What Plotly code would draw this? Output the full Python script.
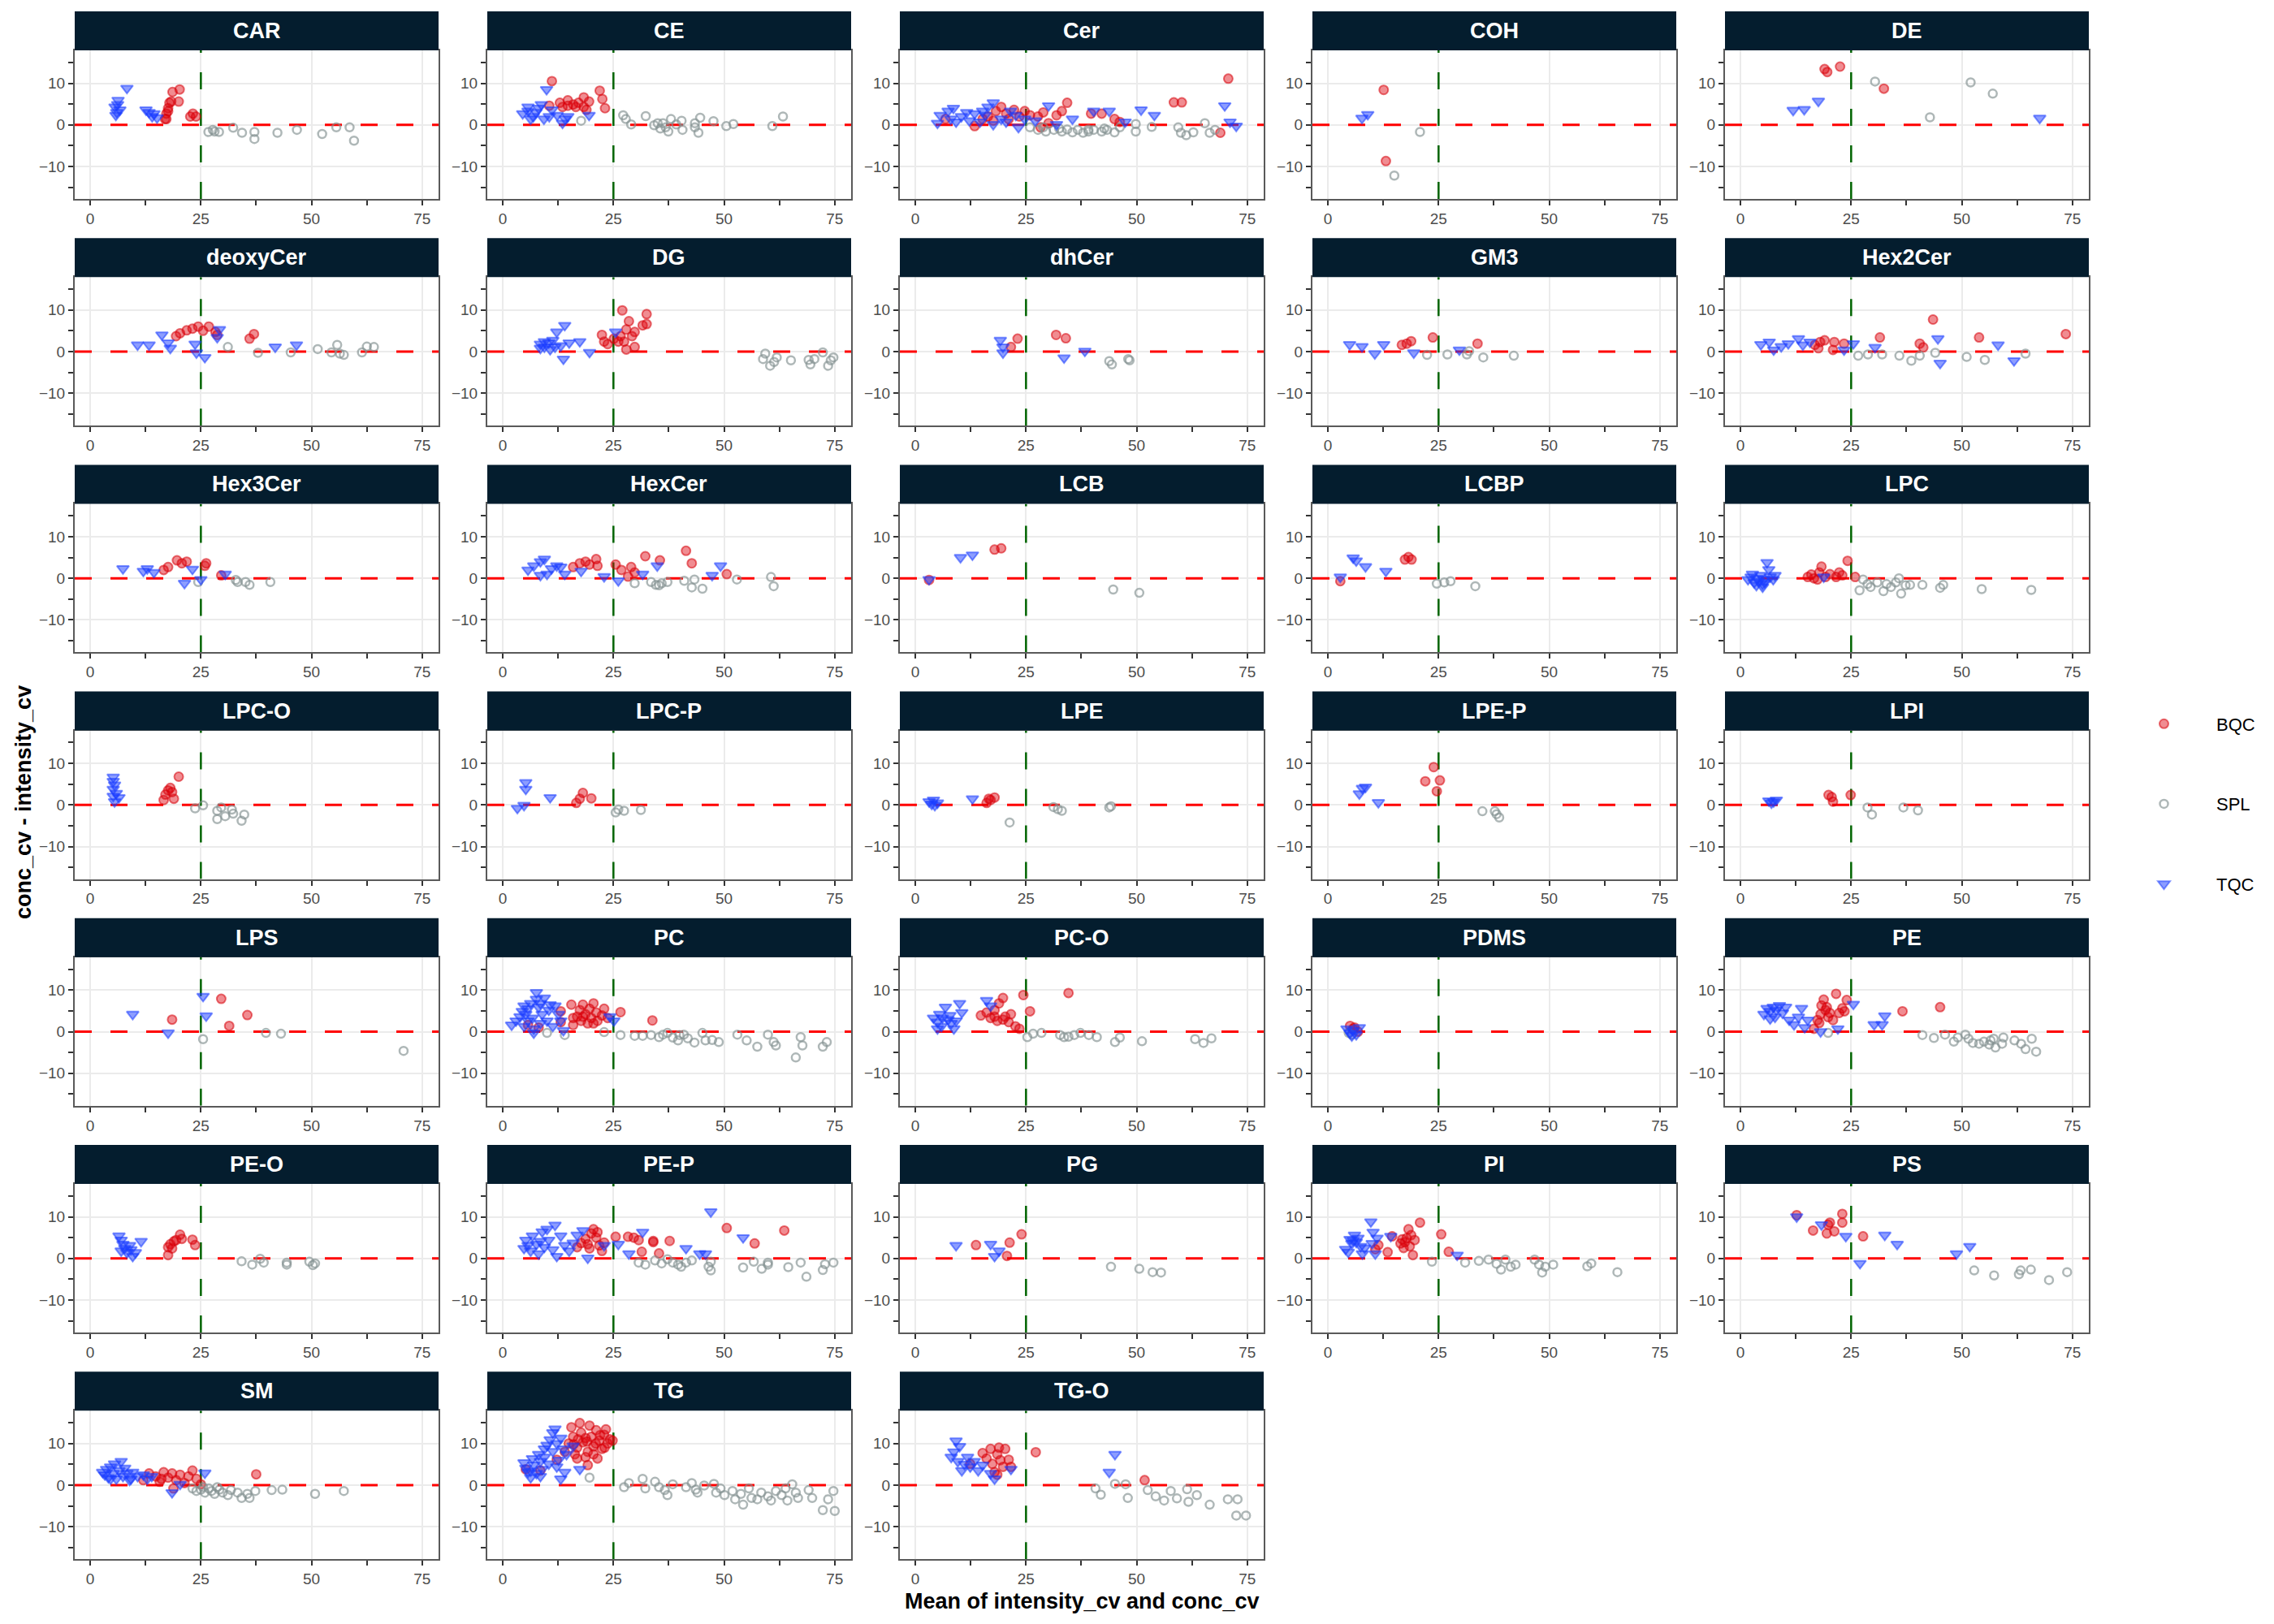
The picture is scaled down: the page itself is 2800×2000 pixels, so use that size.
import plotly.graph_objects as go

# lipid classes, one panel each (facet order)
CLASSES = ["CAR", "CE", "Cer", "COH", "DE",
           "deoxyCer", "DG", "dhCer", "GM3", "Hex2Cer",
           "Hex3Cer", "HexCer", "LCB", "LCBP", "LPC",
           "LPC-O", "LPC-P", "LPE", "LPE-P", "LPI",
           "LPS", "PC", "PC-O", "PDMS", "PE",
           "PE-O", "PE-P", "PG", "PI", "PS",
           "SM", "TG", "TG-O"]

# x = mean of intensity_cv and conc_cv, y = conc_cv - intensity_cv
car_bqc_x = [16.9, 17.2, 17.6, 17.9, 18.3, 18.6, 20.2, 20.0, 17.6, 22.6, 23.2, 23.9, 17.2]
car_bqc_y = [1.4, 2.7, 4.0, 5.3, 5.6, 7.9, 8.5, 5.6, 3.3, 2.0, 2.7, 2.0, 1.4]
car_spl_x = [26.7, 27.7, 29.1, 32.3, 34.3, 37.1, 37.1, 42.3, 46.7, 52.4, 55.6, 58.6, 59.6, 28.1]
car_spl_y = [-1.7, -1.2, -1.7, -0.7, -1.9, -1.7, -3.4, -1.9, -1.2, -2.2, -0.6, -0.6, -3.8, -1.6]
car_tqc_x = [5.6, 5.8, 6.0, 6.2, 6.3, 6.7, 8.3, 12.6, 13.3, 14.0, 14.4, 15.1]
car_tqc_y = [4.3, 2.3, 3.0, 4.9, 5.9, 3.6, 8.8, 3.6, 3.0, 2.0, 2.7, 1.7]

ce_bqc_x = [11.1, 10.5, 12.9, 14.7, 15.9, 17.1, 18.3, 19.5, 16.5, 18.3, 21.9, 22.5, 23.1, 13.5, 18.9, 14.7]
ce_bqc_y = [10.5, 4.6, 5.3, 5.9, 4.9, 5.3, 6.6, 5.6, 4.3, 4.3, 8.2, 6.2, 4.0, 4.3, 3.6, 4.6]
ce_spl_x = [17.7, 27.2, 27.8, 29.0, 32.3, 34.2, 35.6, 36.2, 36.8, 38.0, 37.4, 40.4, 40.6, 43.4, 44.2, 44.6,
            47.6, 50.5, 52.1, 60.9, 63.3, 35.0, 39.2, 43.4]
ce_spl_y = [1.0, 2.3, 1.4, 0.1, 2.1, -0.1, -0.9, 0.4, -0.6, 1.4, -1.6, 1.0, -1.2, 0.4, -1.9, 1.7,
            0.9, -0.3, 0.2, -0.3, 2.0, 0.4, 0.1, -0.6]
ce_tqc_x = [4.5, 5.7, 6.9, 8.1, 8.7, 9.9, 9.3, 6.3, 7.5, 11.1, 12.3, 13.5, 14.1, 14.7, 19.5, 5.7, 10.5]
ce_tqc_y = [2.7, 3.3, 2.0, 4.0, 4.9, 8.5, 1.4, 1.4, 3.0, 3.6, 2.3, 0.4, 1.4, 2.0, 2.3, 4.3, 2.0]

cer_bqc_x = [6.8, 13.4, 16.4, 18.2, 19.4, 20.5, 22.3, 23.5, 24.7, 25.9, 27.7, 28.3, 28.9, 30.1, 31.9, 33.1,
             34.3, 39.7, 42.1, 45.0, 46.2, 58.4, 60.2, 68.9, 70.7, 15.2, 21.1, 17.6]
cer_bqc_y = [1.4, -0.3, 2.0, 3.3, 4.3, 2.7, 3.6, 2.0, 3.3, 2.3, 2.0, -0.6, 3.0, 0.4, 2.3, 3.3,
             5.3, 2.7, 2.7, 1.4, 0.7, 5.4, 5.4, -1.9, 11.1, 1.4, 1.4, 1.0]
cer_spl_x = [25.9, 27.7, 29.5, 31.3, 33.1, 34.3, 35.5, 36.7, 37.9, 39.1, 40.3, 42.1, 43.3, 45.0, 46.2,
             49.8, 49.8, 53.4, 59.4, 60.0, 61.2, 62.8, 65.4, 66.5, 67.7, 28.9, 32.5, 39.1, 42.7]
cer_spl_y = [-0.6, -1.2, -1.6, -1.2, -1.6, -1.1, -1.8, -1.2, -1.9, -1.6, -1.2, -1.6, -1.2, -1.8, -0.6,
             -1.6, 0.2, -0.5, -0.6, -1.9, -2.5, -1.8, 0.4, -1.9, -1.2, -0.6, -0.9, -1.1, -0.9]
cer_tqc_x = [5.0, 5.6, 7.4, 8.6, 9.2, 10.4, 11.6, 13.4, 14.6, 15.2, 16.4, 17.6, 17.6, 19.4, 21.5, 22.7,
             23.3, 24.7, 27.1, 30.1, 31.9, 35.5, 40.3, 43.8, 47.4, 51.0, 54.0, 69.9, 71.1, 72.5,
             8.0, 12.2, 15.8, 20.5]
cer_tqc_y = [0.4, 2.3, 3.3, 4.0, 0.7, 2.0, 3.0, 2.7, 0.7, 3.3, 4.3, 5.3, 0.1, 1.4, 3.3, 2.3,
             -0.6, 1.4, 1.0, 4.6, 0.1, 1.4, 3.3, 3.3, 0.7, 3.6, 2.3, 4.6, 0.7, -0.3,
             1.4, 1.0, 2.3, 0.7]

coh_bqc_x = [12.6, 13.1]
coh_bqc_y = [8.4, -8.7]
coh_spl_x = [15.0, 20.8]
coh_spl_y = [-12.2, -1.7]
coh_tqc_x = [7.7, 9.0]
coh_tqc_y = [1.6, 2.5]

de_bqc_x = [19.0, 19.6, 22.5, 32.4]
de_bqc_y = [13.4, 12.7, 14.0, 8.7]
de_spl_x = [30.4, 42.8, 52.0, 57.0]
de_spl_y = [10.4, 1.8, 10.2, 7.5]
de_tqc_x = [11.9, 14.4, 17.6, 67.6]
de_tqc_y = [3.5, 3.7, 5.7, 1.6]

deoxycer_bqc_x = [19.4, 20.3, 21.8, 23.1, 24.4, 25.5, 26.8, 28.3, 28.7, 36.0, 37.0]
deoxycer_bqc_y = [3.7, 4.4, 5.1, 5.5, 6.0, 5.0, 6.0, 4.7, 4.0, 3.1, 4.2]
deoxycer_spl_x = [31.1, 37.9, 45.3, 51.4, 54.5, 55.8, 56.4, 57.3, 61.4, 62.5, 64.1]
deoxycer_spl_y = [1.1, -0.3, -0.2, 0.6, -0.2, 1.6, -0.5, -0.8, -0.2, 1.2, 1.1]
deoxycer_tqc_x = [10.7, 13.3, 16.2, 17.6, 18.1, 23.7, 24.0, 25.9, 29.2, 28.7, 41.8, 46.6]
deoxycer_tqc_y = [1.6, 1.6, 4.0, 2.1, 0.8, 1.8, -0.3, -1.4, 5.3, 3.4, 1.1, 1.6]

dg_bqc_x = [22.4, 22.9, 23.7, 25.1, 26.1, 26.6, 27.0, 27.4, 27.9, 28.5, 29.2, 29.8, 29.8, 31.6, 32.5, 32.5, 27.9]
dg_bqc_y = [4.0, 2.4, 1.8, 3.1, 2.4, 3.7, 9.9, 2.4, 0.5, 7.3, 3.7, 1.1, 4.7, 6.3, 9.0, 6.6, 5.3]
dg_spl_x = [59.3, 58.8, 60.4, 61.3, 61.9, 65.1, 69.1, 69.5, 70.4, 72.3, 73.5, 74.7, 74.1]
dg_spl_y = [-0.5, -1.8, -3.4, -2.5, -1.4, -2.1, -2.0, -3.1, -1.8, -0.2, -3.4, -1.4, -2.1]
dg_tqc_x = [8.5, 9.4, 10.4, 10.7, 11.3, 11.8, 12.2, 13.1, 13.7, 14.0, 15.0, 17.4, 19.6, 25.5, 9.4, 8.5]
dg_tqc_y = [1.8, 1.1, 2.1, 0.5, 2.7, 1.1, 4.7, 1.4, -1.8, 6.3, 2.1, 2.4, -0.2, 4.7, 2.4, 0.8]

dhcer_bqc_x = [21.6, 23.1, 31.8, 34.0]
dhcer_bqc_y = [1.1, 3.1, 4.0, 3.2]
dhcer_spl_x = [43.8, 44.4, 48.1, 48.4]
dhcer_spl_y = [-2.3, -3.1, -1.8, -2.1]
dhcer_tqc_x = [19.2, 19.8, 19.8, 33.6, 38.3]
dhcer_tqc_y = [2.7, 1.1, -0.3, -1.5, 0.1]

gm3_bqc_x = [16.7, 17.8, 18.8, 23.7, 33.8]
gm3_bqc_y = [1.6, 1.9, 2.5, 3.4, 1.9]
gm3_spl_x = [22.4, 27.0, 31.4, 31.9, 35.1, 42.0]
gm3_spl_y = [-0.8, -0.7, -0.7, 0.1, -1.4, -1.0]
gm3_tqc_x = [4.9, 7.7, 10.6, 12.6, 19.4, 29.7]
gm3_tqc_y = [1.7, 1.2, -0.5, 1.7, -0.3, 0.4]

hex2cer_bqc_x = [16.8, 18.0, 19.0, 17.6, 21.2, 20.9, 23.4, 31.5, 40.5, 41.3, 43.5, 53.9, 73.5]
hex2cer_bqc_y = [1.6, 2.3, 2.7, 0.8, 2.3, 0.4, 1.9, 3.4, 1.9, 1.0, 7.7, 3.4, 4.2]
hex2cer_spl_x = [26.6, 28.8, 32.0, 35.9, 38.6, 40.5, 44.0, 51.1, 55.2, 64.4]
hex2cer_spl_y = [-1.0, -0.7, -0.7, -1.0, -2.2, -1.0, -0.3, -1.3, -2.0, -0.5]
hex2cer_tqc_x = [4.6, 6.5, 7.5, 9.2, 10.8, 13.1, 14.1, 15.7, 23.4, 25.5, 30.4, 44.6, 45.1, 58.2, 61.8]
hex2cer_tqc_y = [1.7, 2.3, 0.4, 1.2, 1.9, 3.1, 1.6, 2.3, 0.4, 1.9, 1.0, 3.1, -2.8, 1.6, -2.2]

hex3cer_bqc_x = [16.6, 17.6, 19.6, 20.7, 21.8, 25.9, 26.2, 29.6]
hex3cer_bqc_y = [2.0, 2.7, 4.3, 3.6, 4.0, 3.0, 3.6, 0.7]
hex3cer_spl_x = [24.4, 32.9, 35.1, 36.0, 40.7, 33.3]
hex3cer_spl_y = [-0.9, -0.4, -0.9, -1.6, -0.9, -0.9]
hex3cer_tqc_x = [7.4, 12.0, 12.9, 14.4, 21.3, 23.1, 25.0, 30.5]
hex3cer_tqc_y = [2.3, 1.7, 2.3, 1.4, -1.2, 2.2, -0.3, 1.0]

hexcer_bqc_x = [15.9, 17.4, 18.7, 19.6, 21.1, 21.4, 25.5, 26.8, 28.3, 29.0, 29.8, 32.2, 35.5, 41.4, 42.7, 50.6]
hexcer_bqc_y = [2.7, 3.6, 4.0, 3.3, 4.6, 3.0, 3.3, 2.0, 0.4, 2.7, 1.4, 5.3, 4.3, 6.6, 3.6, 1.0]
hexcer_spl_x = [29.8, 33.5, 34.6, 35.9, 37.2, 41.0, 42.7, 43.3, 45.1, 52.9, 60.6, 61.2, 35.3]
hexcer_spl_y = [-1.2, -0.9, -1.6, -1.2, -0.9, -0.6, -2.2, -0.3, -2.5, -0.3, 0.3, -1.9, -1.7]
hexcer_tqc_x = [5.7, 7.0, 8.5, 9.4, 10.0, 11.0, 12.2, 13.1, 14.0, 17.7, 22.9, 26.1, 31.6, 34.9, 47.3, 49.2, 8.5]
hexcer_tqc_y = [2.0, 3.0, 4.0, 4.6, 1.0, 2.3, 3.0, 2.7, 1.0, 1.7, 0.4, -0.6, 1.0, 3.0, 0.7, 3.0, 0.7]

lcb_bqc_x = [3.1, 17.9, 19.4]
lcb_bqc_y = [-0.4, 6.9, 7.2]
lcb_spl_x = [44.7, 50.6]
lcb_spl_y = [-2.7, -3.5]
lcb_tqc_x = [3.1, 10.2, 12.9]
lcb_tqc_y = [-0.3, 5.0, 5.6]

lcbp_bqc_x = [2.8, 17.4, 18.2, 18.9]
lcbp_bqc_y = [-0.7, 4.5, 5.1, 4.5]
lcbp_spl_x = [24.6, 26.3, 27.7, 33.3]
lcbp_spl_y = [-1.3, -1.0, -0.7, -1.9]
lcbp_tqc_x = [2.8, 5.7, 6.4, 8.5, 13.1]
lcbp_tqc_y = [0.3, 4.9, 4.2, 2.8, 1.7]

lpc_bqc_x = [15.2, 16.0, 16.6, 17.8, 18.3, 19.2, 20.2, 21.6, 22.3, 23.0, 24.2, 25.9, 17.4]
lpc_bqc_y = [0.3, 0.9, 0.0, 1.4, 2.8, 0.3, 1.0, 0.3, 1.4, 0.7, 4.2, 0.3, -0.3]
lpc_spl_x = [26.9, 27.7, 28.7, 29.4, 30.9, 32.3, 33.0, 34.0, 35.1, 35.8, 36.3, 37.3, 38.3, 41.1, 45.1, 45.8, 54.5, 65.7]
lpc_spl_y = [-2.9, -0.3, -1.4, -2.1, -1.0, -3.1, -1.4, -2.1, -1.0, 0.0, -3.7, -1.7, -1.6, -1.6, -2.3, -1.6, -2.6, -2.8]
lpc_tqc_x = [1.7, 2.4, 3.1, 3.8, 4.1, 4.6, 5.0, 5.3, 5.5, 6.0, 6.4, 6.7, 7.4, 7.8, 2.7, 3.6, 5.0, 18.8]
lpc_tqc_y = [-0.3, 0.3, -1.0, 0.0, -0.7, 0.7, -1.4, -0.2, -1.0, 3.8, 2.1, 0.3, -0.3, 0.7, 1.0, -1.7, -2.1, 0.3]

lpc_o_bqc_x = [16.6, 17.0, 17.6, 18.1, 18.9, 18.5, 20.0]
lpc_o_bqc_y = [1.2, 2.5, 3.5, 4.1, 1.5, 3.1, 6.8]
lpc_o_spl_x = [23.7, 25.5, 28.7, 28.7, 30.5, 32.0, 32.3, 34.8, 34.2, 29.6]
lpc_o_spl_y = [-0.8, -0.1, -1.4, -3.4, -2.7, -1.1, -2.1, -2.3, -3.8, -0.6]
lpc_o_tqc_x = [5.2, 5.2, 5.5, 5.2, 5.9, 6.5, 5.5, 5.2]
lpc_o_tqc_y = [6.7, 5.7, 4.8, 3.8, 2.8, 1.8, 0.8, 2.1]

lpc_p_bqc_x = [16.6, 17.4, 18.1, 20.0]
lpc_p_bqc_y = [0.5, 1.5, 2.9, 1.6]
lpc_p_spl_x = [25.5, 27.4, 31.2, 26.1]
lpc_p_spl_y = [-1.8, -1.4, -1.2, -1.1]
lpc_p_tqc_x = [3.3, 4.8, 5.2, 5.2, 10.7]
lpc_p_tqc_y = [-0.8, -0.1, 5.4, 3.8, 1.8]

lpe_bqc_x = [16.1, 17.0, 17.9, 16.6]
lpe_bqc_y = [0.5, 1.2, 1.8, 1.5]
lpe_spl_x = [21.3, 31.2, 32.2, 33.1, 44.2, 43.8]
lpe_spl_y = [-4.2, -0.5, -1.0, -1.4, -0.3, -0.6]
lpe_tqc_x = [3.1, 3.7, 4.1, 4.4, 5.0, 12.9]
lpe_tqc_y = [0.8, 0.2, 1.2, -0.1, 0.5, 1.5]

lpe_p_bqc_x = [22.0, 23.9, 24.6, 25.3]
lpe_p_bqc_y = [5.7, 9.1, 3.3, 5.9]
lpe_p_spl_x = [34.9, 37.7, 38.1, 38.7]
lpe_p_spl_y = [-1.5, -1.5, -2.2, -3.0]
lpe_p_tqc_x = [7.1, 7.8, 8.5, 11.4]
lpe_p_tqc_y = [2.7, 4.0, 4.3, 0.6]

lpi_bqc_x = [19.9, 20.6, 20.9, 24.9]
lpi_bqc_y = [2.4, 1.9, 0.8, 2.4]
lpi_spl_x = [28.7, 29.7, 36.8, 40.1]
lpi_spl_y = [-0.6, -2.3, -0.6, -1.3]
lpi_tqc_x = [6.4, 7.0, 7.5, 8.1]
lpi_tqc_y = [1.0, 0.5, 0.8, 1.2]

lps_bqc_x = [18.5, 29.6, 31.4, 35.5]
lps_bqc_y = [2.9, 7.9, 1.4, 4.0]
lps_spl_x = [25.5, 39.7, 43.1, 70.8]
lps_spl_y = [-1.8, -0.3, -0.5, -4.6]
lps_tqc_x = [9.6, 17.6, 25.5, 26.2]
lps_tqc_y = [4.2, -0.3, 8.5, 3.8]

pc_bqc_x = [5.7, 8.1, 13.1, 13.1, 15.5, 15.9, 16.8, 17.4, 17.7, 18.1, 18.7, 19.2, 19.6, 20.0, 20.5, 21.1,
            21.4, 22.4, 22.9, 23.7, 26.6, 33.8, 18.1, 20.5, 15.9]
pc_bqc_y = [1.6, 1.0, 4.9, 2.3, 6.5, 1.6, 3.6, 5.2, 2.6, 6.5, 4.2, 2.0, 5.5, 3.3, 6.8, 4.6,
            2.6, 3.9, 5.5, 3.3, 4.7, 2.7, 3.6, 2.0, 3.3]
pc_spl_x = [10.0, 14.0, 22.9, 26.6, 29.8, 31.6, 33.5, 35.3, 37.2, 38.4, 39.6, 40.9, 41.8, 43.3, 45.1, 45.8,
            47.3, 48.8, 53.0, 55.1, 57.5, 59.9, 61.2, 61.7, 66.2, 67.3, 67.7, 72.3, 73.2, 39.9, 36.2]
pc_spl_y = [-0.3, -0.8, -0.1, -0.8, -1.0, -1.0, -0.8, -1.3, -0.3, -1.4, -2.1, -0.7, -1.6, -2.6, -0.3, -2.1,
            -2.0, -2.5, -0.7, -2.1, -3.6, -0.7, -2.5, -3.3, -6.2, -1.3, -3.3, -3.6, -2.5, -0.8, -0.7]
pc_tqc_x = [2.0, 3.0, 3.9, 4.4, 4.8, 5.2, 5.7, 6.3, 6.7, 7.0, 7.6, 7.6, 8.1, 8.5, 8.9, 9.4,
            10.0, 10.4, 10.7, 11.3, 11.8, 12.6, 13.1, 13.7, 24.2, 25.1, 4.8, 5.7, 8.5, 7.0]
pc_tqc_y = [1.6, 2.6, 3.6, 4.9, 6.2, 4.2, 5.5, 6.8, 3.3, 0.7, 9.4, 7.8, 5.9, 6.8, 4.2, 8.1,
            2.6, 5.2, 6.5, 1.3, 6.2, 4.2, 2.6, 0.3, 3.6, 2.6, 1.3, 2.6, 2.0, -0.3]

pc_o_bqc_x = [14.8, 16.1, 17.0, 17.9, 18.5, 18.9, 19.8, 20.3, 21.1, 21.6, 22.6, 23.5, 24.4, 25.9, 34.6, 17.9, 19.8]
pc_o_bqc_y = [3.9, 4.6, 3.3, 5.2, 2.6, 6.8, 8.1, 3.6, 2.3, 4.2, 1.3, 0.7, 8.8, 4.9, 9.3, 3.6, 2.9]
pc_o_spl_x = [25.3, 26.6, 28.5, 32.7, 34.6, 35.9, 37.3, 39.2, 41.0, 45.1, 46.2, 51.2, 63.2, 65.1, 66.9, 33.6]
pc_o_spl_y = [-1.3, -0.5, -0.3, -0.8, -1.2, -0.8, -0.3, -0.8, -1.3, -2.5, -1.4, -2.3, -1.8, -2.7, -1.6, -1.3]
pc_o_tqc_x = [4.1, 5.0, 5.5, 5.9, 6.8, 7.4, 7.8, 8.1, 8.7, 9.2, 10.0, 10.5, 16.1, 17.0, 5.0, 6.1]
pc_o_tqc_y = [3.3, 2.3, 4.2, 1.3, 5.9, 2.9, 3.9, 2.0, 0.7, 2.6, 6.8, 4.6, 7.5, 6.2, 0.7, 3.3]

pdms_bqc_x = [5.0, 5.7, 6.8, 6.0]
pdms_bqc_y = [1.4, 0.7, 0.0, 1.0]
pdms_spl_x = [4.7, 5.4]
pdms_spl_y = [-0.3, -0.7]
pdms_tqc_x = [4.3, 5.0, 5.7, 6.4, 7.1, 5.4]
pdms_tqc_y = [0.7, -0.3, 0.3, -0.7, 1.0, -1.0]

pe_bqc_x = [16.6, 17.4, 18.1, 18.3, 18.8, 19.2, 19.8, 20.2, 20.9, 21.6, 22.3, 23.0, 23.5, 24.0, 36.6, 45.1, 19.5, 17.8]
pe_bqc_y = [0.7, 2.8, 4.2, 6.3, 7.7, 5.2, 3.5, 4.5, 2.8, 9.1, 4.5, 5.6, 4.9, 7.6, 4.9, 5.9, 5.9, 2.1]
pe_spl_x = [19.8, 41.1, 43.7, 46.2, 48.2, 49.1, 50.8, 51.5, 52.5, 53.9, 55.0, 56.2, 57.2, 57.6, 59.1, 59.4,
            61.9, 63.4, 64.4, 65.8, 66.8, 56.5]
pe_spl_y = [-0.3, -0.8, -1.5, -0.7, -2.4, -1.4, -0.7, -1.7, -2.7, -2.9, -2.4, -3.1, -1.7, -3.8, -2.9, -1.4,
            -2.1, -2.9, -4.2, -1.7, -4.8, -2.1]
pe_tqc_x = [5.3, 6.0, 6.7, 7.4, 7.8, 8.1, 8.8, 9.5, 10.2, 11.0, 12.1, 13.1, 13.8, 14.5, 15.2, 18.1,
            22.0, 25.5, 30.2, 32.0, 32.6, 6.7]
pe_tqc_y = [4.2, 5.6, 4.9, 5.9, 3.5, 5.2, 6.3, 4.5, 5.9, 2.8, 1.7, 3.5, 5.6, 1.0, 2.8, 0.0,
            0.7, 6.6, 1.7, 1.7, 3.8, 3.1]

pe_o_bqc_x = [17.6, 17.6, 18.1, 18.9, 19.4, 20.3, 20.7, 23.1, 23.7, 18.5]
pe_o_bqc_y = [0.8, 2.7, 3.4, 4.1, 4.4, 5.7, 4.7, 4.5, 3.2, 2.4]
pe_o_spl_x = [34.2, 36.6, 38.4, 39.2, 44.4, 44.4, 49.5, 50.3, 50.8]
pe_o_spl_y = [-0.7, -1.5, -0.1, -1.0, -1.0, -1.5, -0.8, -1.6, -1.2]
pe_o_tqc_x = [6.5, 7.0, 7.4, 7.8, 8.3, 8.9, 9.2, 9.6, 10.2, 11.5, 7.0]
pe_o_tqc_y = [5.4, 4.4, 3.4, 2.4, 1.4, 3.1, 2.1, 0.5, 1.4, 4.1, 1.8]

pe_p_bqc_x = [16.8, 17.7, 18.7, 19.2, 20.0, 20.5, 21.1, 21.4, 21.8, 22.4, 22.9, 25.5, 28.3, 29.6, 30.7, 31.4,
              34.0, 34.0, 35.3, 37.7, 50.6, 56.9, 63.6, 19.6]
pe_p_bqc_y = [2.7, 3.7, 4.7, 3.4, 6.0, 7.0, 5.0, 6.3, 3.1, 1.8, 3.8, 5.2, 5.2, 5.0, 4.4, 1.6,
              4.2, 3.9, 1.2, 4.2, 7.3, 3.6, 6.7, 2.4]
pe_p_spl_x = [30.7, 32.2, 34.4, 35.9, 37.2, 38.4, 39.6, 40.3, 41.4, 42.7, 46.5, 47.0, 47.0, 54.3, 56.7, 58.5,
              59.9, 64.5, 67.3, 68.6, 72.3, 72.8, 74.7, 59.9]
pe_p_spl_y = [-1.0, -1.5, -0.5, -1.2, -0.2, -1.0, -1.5, -2.0, -1.0, -0.5, -2.0, -2.9, -0.8, -2.2, -0.8, -2.5,
              -1.0, -2.1, -1.0, -4.4, -2.8, -1.4, -1.0, -1.5]
pe_p_tqc_x = [5.2, 5.7, 6.3, 6.7, 7.6, 8.1, 8.9, 9.4, 10.0, 10.4, 11.3, 11.8, 12.2, 13.1, 14.0, 15.0,
              15.9, 16.8, 18.1, 19.2, 22.9, 26.1, 28.5, 31.6, 41.4, 44.5, 45.8, 47.0, 54.3, 8.5, 4.8]
pe_p_tqc_y = [4.4, 3.1, 1.8, 5.4, 3.4, 1.1, 6.4, 2.7, 7.0, 4.4, 2.1, 8.0, 0.5, 5.4, 3.1, 1.8,
              3.7, 5.6, 6.7, 0.1, 3.1, 3.4, 1.1, 6.3, 2.4, 1.1, 1.1, 11.2, 5.0, 4.1, 2.4]

pg_bqc_x = [13.7, 20.7, 21.3, 24.0]
pg_bqc_y = [3.2, 0.6, 3.8, 5.8]
pg_spl_x = [44.2, 50.6, 53.6, 55.5]
pg_spl_y = [-2.0, -2.5, -3.3, -3.4]
pg_tqc_x = [9.2, 17.0, 17.9, 18.9]
pg_tqc_y = [3.1, 3.4, 0.5, 1.8]

pi_bqc_x = [10.7, 11.4, 13.5, 14.5, 16.4, 16.8, 17.1, 17.4, 17.8, 18.2, 18.5, 18.8, 19.2, 19.6, 20.8, 25.6, 27.3]
pi_bqc_y = [2.2, 3.2, 1.5, 5.3, 3.6, 4.6, 2.5, 3.9, 4.9, 7.0, 2.9, 5.6, 0.8, 4.4, 8.6, 5.8, 1.6]
pi_spl_x = [23.5, 31.0, 34.1, 36.3, 38.1, 39.1, 40.1, 41.3, 42.4, 46.7, 47.7, 48.4, 49.1, 50.9, 58.6, 59.5, 65.4]
pi_spl_y = [-0.8, -1.0, -0.6, -0.3, -1.3, -2.7, -0.3, -2.0, -1.5, -0.3, -1.5, -3.4, -2.0, -1.5, -1.9, -1.2, -3.3]
pi_tqc_x = [4.0, 4.6, 5.0, 5.4, 6.0, 6.4, 6.8, 7.4, 7.8, 8.3, 9.7, 10.0, 10.2, 10.7, 11.1, 14.2, 29.2, 5.7]
pi_tqc_y = [2.2, 1.5, 4.6, 3.6, 5.6, 3.9, 4.9, 2.9, 1.1, 2.5, 8.8, 3.6, 6.3, 1.1, 4.9, 5.3, 0.8, 4.3]

ps_bqc_x = [12.7, 16.4, 19.5, 19.8, 20.2, 21.2, 23.0, 23.0, 27.7]
ps_bqc_y = [10.4, 6.7, 6.0, 8.1, 8.6, 6.5, 10.7, 8.6, 5.3]
ps_spl_x = [52.8, 57.3, 62.9, 63.3, 65.6, 69.7, 73.8]
ps_spl_y = [-2.9, -4.1, -3.8, -2.9, -2.7, -5.2, -3.3]
ps_tqc_x = [12.7, 18.3, 23.8, 27.0, 32.6, 35.4, 48.8, 51.8]
ps_tqc_y = [10.0, 8.1, 5.3, -1.2, 5.6, 3.4, 1.1, 2.9]

sm_bqc_x = [12.0, 13.3, 14.8, 15.7, 16.6, 17.6, 18.5, 19.4, 20.3, 21.3, 22.2, 23.1, 24.0, 25.0, 18.8, 37.5, 16.1]
sm_bqc_y = [1.2, 2.8, 2.1, 0.8, 3.1, 1.8, 2.8, 1.2, 2.5, 0.5, 2.1, 3.5, 1.5, 0.2, -0.8, 2.6, 1.5]
sm_spl_x = [23.1, 24.0, 25.0, 25.9, 26.8, 27.4, 28.1, 29.2, 29.9, 31.1, 31.8, 33.3, 34.2, 35.5, 36.0, 37.3,
            41.0, 43.4, 50.8, 57.3, 25.5, 28.7]
sm_spl_y = [-0.8, -1.4, -1.1, -1.8, -0.8, -1.4, -2.1, -1.1, -1.8, -2.4, -1.2, -1.8, -3.1, -2.1, -3.1, -1.4,
            -1.2, -1.1, -2.1, -1.4, -0.5, -0.5]
sm_tqc_x = [2.8, 3.3, 3.7, 4.1, 4.6, 5.2, 5.5, 5.9, 6.5, 7.0, 7.4, 7.8, 8.3, 8.9, 9.6, 10.7,
            12.0, 12.9, 13.9, 18.5, 20.3, 25.9, 4.6, 9.2]
sm_tqc_y = [3.1, 2.5, 3.8, 1.8, 4.4, 2.8, 5.1, 1.5, 3.5, 5.7, 2.1, 4.1, 2.8, 1.2, 3.1, 2.1,
            2.5, 1.5, 2.1, -1.8, 0.2, 2.9, 1.5, 1.5]

tg_bqc_x = [5.2, 8.5, 12.2, 14.0, 14.9, 15.5, 15.9, 16.3, 16.8, 17.4, 17.7, 18.1, 18.7, 19.2, 19.6, 20.0,
            20.5, 21.1, 21.4, 21.8, 22.4, 22.9, 23.3, 23.7, 24.2, 24.8, 19.2, 16.8, 20.5, 18.7,
            17.0, 22.0, 23.0, 19.0, 16.0, 21.0]
tg_bqc_y = [3.8, 3.5, 6.1, 8.0, 10.0, 13.9, 11.6, 7.4, 9.0, 14.9, 12.6, 10.3, 6.7, 8.0, 14.3, 11.6,
            9.3, 13.2, 6.4, 10.7, 8.7, 12.1, 13.4, 10.0, 11.0, 10.7, 4.8, 6.4, 7.4, 11.3,
            11.0, 12.0, 9.0, 10.5, 9.8, 10.0]
tg_spl_x = [19.6, 27.4, 28.5, 31.6, 32.2, 34.4, 35.3, 36.6, 37.2, 38.4, 41.4, 42.7, 43.6, 44.0, 45.5, 47.7,
            48.2, 49.2, 50.1, 51.9, 52.5, 53.8, 54.3, 55.6, 56.2, 58.4, 59.9, 60.6, 61.7, 63.0,
            64.3, 65.4, 66.2, 66.7, 69.1, 69.9, 72.3, 73.5, 74.7, 75.0, 63.9, 57.5]
tg_spl_y = [1.8, -0.5, 0.5, 1.5, -0.8, 0.8, -0.5, -1.2, -2.4, 0.2, -0.5, 0.5, -1.1, -1.8, -0.1, 0.3,
            -1.8, -0.8, -2.4, -1.4, -3.4, -2.1, -4.7, -0.8, -3.1, -1.8, -2.7, -3.7, -1.4, -2.4,
            -3.7, 0.2, -1.8, -3.1, -1.2, -3.1, -6.0, -3.4, -1.4, -6.2, -0.8, -3.4]
tg_tqc_x = [4.8, 5.2, 5.7, 6.3, 6.7, 7.0, 7.6, 8.1, 8.5, 8.9, 9.4, 9.4, 10.0, 10.4, 10.7, 11.3,
            11.3, 11.8, 12.2, 12.6, 13.1, 13.7, 14.0, 14.4, 13.1, 15.9, 17.4, 8.5, 6.3, 12.2]
tg_tqc_y = [5.4, 4.1, 3.1, 1.8, 6.4, 4.8, 2.8, 7.4, 5.7, 3.8, 8.7, 6.7, 9.6, 5.1, 10.9, 8.1,
            12.6, 13.5, 10.0, 6.0, 11.3, 8.7, 3.1, 7.4, 1.5, 9.4, 3.8, 2.1, 3.4, 4.4]

tg_o_bqc_x = [12.4, 15.2, 16.1, 17.0, 17.4, 17.9, 18.5, 18.9, 19.2, 19.8, 20.3, 21.1, 21.6, 18.5, 27.2, 51.8]
tg_o_bqc_y = [5.1, 7.7, 6.4, 8.7, 5.1, 3.1, 7.4, 9.0, 6.0, 4.4, 8.7, 6.1, 4.4, 2.5, 7.9, 1.2]
tg_o_spl_x = [40.7, 41.9, 45.1, 47.5, 48.0, 52.5, 54.3, 56.2, 57.7, 59.1, 61.4, 61.7, 63.6, 66.5, 70.6, 72.8, 72.5, 74.7]
tg_o_spl_y = [-0.8, -2.3, 0.3, 0.2, -3.1, -1.2, -2.7, -3.7, -1.4, -3.2, -1.0, -4.0, -2.4, -4.7, -3.4, -3.4, -7.3, -7.3]
tg_o_tqc_x = [8.1, 8.7, 9.2, 9.6, 10.0, 10.5, 11.1, 11.8, 12.4, 13.3, 14.2, 15.2, 17.0, 17.9, 21.6, 43.8, 45.1]
tg_o_tqc_y = [6.7, 8.0, 10.6, 5.7, 9.3, 3.5, 5.0, 6.7, 4.4, 5.7, 3.5, 4.8, 2.8, 1.5, 3.8, 3.1, 7.4]

PANEL_DATA = [
    (car_bqc_x, car_bqc_y, car_spl_x, car_spl_y, car_tqc_x, car_tqc_y),
    (ce_bqc_x, ce_bqc_y, ce_spl_x, ce_spl_y, ce_tqc_x, ce_tqc_y),
    (cer_bqc_x, cer_bqc_y, cer_spl_x, cer_spl_y, cer_tqc_x, cer_tqc_y),
    (coh_bqc_x, coh_bqc_y, coh_spl_x, coh_spl_y, coh_tqc_x, coh_tqc_y),
    (de_bqc_x, de_bqc_y, de_spl_x, de_spl_y, de_tqc_x, de_tqc_y),
    (deoxycer_bqc_x, deoxycer_bqc_y, deoxycer_spl_x, deoxycer_spl_y, deoxycer_tqc_x, deoxycer_tqc_y),
    (dg_bqc_x, dg_bqc_y, dg_spl_x, dg_spl_y, dg_tqc_x, dg_tqc_y),
    (dhcer_bqc_x, dhcer_bqc_y, dhcer_spl_x, dhcer_spl_y, dhcer_tqc_x, dhcer_tqc_y),
    (gm3_bqc_x, gm3_bqc_y, gm3_spl_x, gm3_spl_y, gm3_tqc_x, gm3_tqc_y),
    (hex2cer_bqc_x, hex2cer_bqc_y, hex2cer_spl_x, hex2cer_spl_y, hex2cer_tqc_x, hex2cer_tqc_y),
    (hex3cer_bqc_x, hex3cer_bqc_y, hex3cer_spl_x, hex3cer_spl_y, hex3cer_tqc_x, hex3cer_tqc_y),
    (hexcer_bqc_x, hexcer_bqc_y, hexcer_spl_x, hexcer_spl_y, hexcer_tqc_x, hexcer_tqc_y),
    (lcb_bqc_x, lcb_bqc_y, lcb_spl_x, lcb_spl_y, lcb_tqc_x, lcb_tqc_y),
    (lcbp_bqc_x, lcbp_bqc_y, lcbp_spl_x, lcbp_spl_y, lcbp_tqc_x, lcbp_tqc_y),
    (lpc_bqc_x, lpc_bqc_y, lpc_spl_x, lpc_spl_y, lpc_tqc_x, lpc_tqc_y),
    (lpc_o_bqc_x, lpc_o_bqc_y, lpc_o_spl_x, lpc_o_spl_y, lpc_o_tqc_x, lpc_o_tqc_y),
    (lpc_p_bqc_x, lpc_p_bqc_y, lpc_p_spl_x, lpc_p_spl_y, lpc_p_tqc_x, lpc_p_tqc_y),
    (lpe_bqc_x, lpe_bqc_y, lpe_spl_x, lpe_spl_y, lpe_tqc_x, lpe_tqc_y),
    (lpe_p_bqc_x, lpe_p_bqc_y, lpe_p_spl_x, lpe_p_spl_y, lpe_p_tqc_x, lpe_p_tqc_y),
    (lpi_bqc_x, lpi_bqc_y, lpi_spl_x, lpi_spl_y, lpi_tqc_x, lpi_tqc_y),
    (lps_bqc_x, lps_bqc_y, lps_spl_x, lps_spl_y, lps_tqc_x, lps_tqc_y),
    (pc_bqc_x, pc_bqc_y, pc_spl_x, pc_spl_y, pc_tqc_x, pc_tqc_y),
    (pc_o_bqc_x, pc_o_bqc_y, pc_o_spl_x, pc_o_spl_y, pc_o_tqc_x, pc_o_tqc_y),
    (pdms_bqc_x, pdms_bqc_y, pdms_spl_x, pdms_spl_y, pdms_tqc_x, pdms_tqc_y),
    (pe_bqc_x, pe_bqc_y, pe_spl_x, pe_spl_y, pe_tqc_x, pe_tqc_y),
    (pe_o_bqc_x, pe_o_bqc_y, pe_o_spl_x, pe_o_spl_y, pe_o_tqc_x, pe_o_tqc_y),
    (pe_p_bqc_x, pe_p_bqc_y, pe_p_spl_x, pe_p_spl_y, pe_p_tqc_x, pe_p_tqc_y),
    (pg_bqc_x, pg_bqc_y, pg_spl_x, pg_spl_y, pg_tqc_x, pg_tqc_y),
    (pi_bqc_x, pi_bqc_y, pi_spl_x, pi_spl_y, pi_tqc_x, pi_tqc_y),
    (ps_bqc_x, ps_bqc_y, ps_spl_x, ps_spl_y, ps_tqc_x, ps_tqc_y),
    (sm_bqc_x, sm_bqc_y, sm_spl_x, sm_spl_y, sm_tqc_x, sm_tqc_y),
    (tg_bqc_x, tg_bqc_y, tg_spl_x, tg_spl_y, tg_tqc_x, tg_tqc_y),
    (tg_o_bqc_x, tg_o_bqc_y, tg_o_spl_x, tg_o_spl_y, tg_o_tqc_x, tg_o_tqc_y),
]

X_RANGE = [-3.5, 78.7]
Y_RANGE = [-17.8, 17.9]
CV_LIMIT = 25   # vertical reference line

# the page has an 8px body margin, so the figure is drawn a bit smaller
OFF = 8
FW, FH = 2800 - 2 * OFF, 2000 - 2 * OFF


def fx(px):
    return (px - OFF) / FW


def fy(py):
    return 1 - (py - OFF) / FH


FONT = "Liberation Sans, Arial, Helvetica, sans-serif"
NCOL = 5
# panel geometry in screen pixels
PX0, PW, PPITCH = 92, 448, 508
STRIP_TOP, STRIP_H, PANEL_H, RPITCH = 14, 48, 183, 279.2

STYLE = {
    "BQC": dict(symbol="circle", size=11, color="rgba(222,0,10,0.45)",
                line=dict(color="rgba(215,0,10,0.55)", width=2)),
    "SPL": dict(symbol="circle-open", size=10, color="rgba(130,145,145,0.65)",
                line=dict(color="rgba(130,145,145,0.65)", width=2.5)),
    "TQC": dict(symbol="triangle-down", size=13, color="rgba(25,60,255,0.5)",
                line=dict(color="rgba(25,60,255,0.55)", width=2)),
}

fig = go.Figure()
layout = {}
shapes = []
annotations = []

for i, (name, data) in enumerate(zip(CLASSES, PANEL_DATA)):
    idx = i + 1
    r, c = divmod(i, NCOL)
    xs = "" if idx == 1 else str(idx)
    left = PX0 + PPITCH * c
    ptop = STRIP_TOP + STRIP_H + RPITCH * r

    axis_common = dict(
        ticks="outside", ticklen=6, tickwidth=2, tickcolor="#333333",
        showline=True, mirror=True, linecolor="#5A5A5A", linewidth=2,
        showgrid=True, gridcolor="#EBEBEB", gridwidth=2, zeroline=False,
        tickfont=dict(family=FONT, size=19, color="#4D4D4D"),
    )
    layout["xaxis" + xs] = dict(
        domain=[fx(left), fx(left + PW)], anchor="y" + xs, range=X_RANGE, tick0=0, dtick=25,
        minor=dict(tick0=0, dtick=12.5, ticks="outside", ticklen=6, tickwidth=2,
                   tickcolor="#333333", showgrid=False),
        **axis_common)
    layout["yaxis" + xs] = dict(
        domain=[fy(ptop + PANEL_H), fy(ptop)], anchor="x" + xs, range=Y_RANGE, tick0=0, dtick=10,
        minor=dict(tick0=0, dtick=5, ticks="outside", ticklen=6, tickwidth=2,
                   tickcolor="#333333", showgrid=False),
        **axis_common)

    # reference lines: y = 0 (red) and x = 25 (dark green)
    fig.add_trace(go.Scatter(x=X_RANGE, y=[0, 0], mode="lines", showlegend=False, hoverinfo="skip",
                             line=dict(color="#FF0000", width=3, dash="21px,23px"),
                             xaxis="x" + xs, yaxis="y" + xs))
    fig.add_trace(go.Scatter(x=[CV_LIMIT, CV_LIMIT], y=Y_RANGE, mode="lines", showlegend=False,
                             hoverinfo="skip", line=dict(color="#006400", width=2.5, dash="21px,24px"),
                             xaxis="x" + xs, yaxis="y" + xs))

    bx, by, sx, sy, tx, ty = data
    for grp, gx, gy in (("BQC", bx, by), ("SPL", sx, sy), ("TQC", tx, ty)):
        fig.add_trace(go.Scatter(
            x=gx, y=gy, mode="markers", name=grp, legendgroup=grp,
            showlegend=(idx == 1), marker=STYLE[grp],
            xaxis="x" + xs, yaxis="y" + xs, hoverinfo="skip"))

    # facet strip
    stop = STRIP_TOP + RPITCH * r
    shapes.append(dict(type="rect", xref="paper", yref="paper",
                       x0=fx(left), x1=fx(left + PW), y0=fy(stop + STRIP_H), y1=fy(stop),
                       fillcolor="#041D2E", line=dict(width=0)))
    annotations.append(dict(text="<b>" + name + "</b>", xref="paper", yref="paper",
                            x=fx(left + PW / 2), y=fy(stop + STRIP_H / 2),
                            showarrow=False, xanchor="center", yanchor="middle",
                            font=dict(family=FONT, size=27, color="white")))

annotations.append(dict(text="<b>Mean of intensity_cv and conc_cv</b>", xref="paper", yref="paper",
                        x=fx(1332), y=fy(1972), showarrow=False,
                        xanchor="center", yanchor="middle",
                        font=dict(family=FONT, size=27, color="black")))
annotations.append(dict(text="<b>conc_cv - intensity_cv</b>", xref="paper", yref="paper",
                        x=fx(29), y=fy(988), showarrow=False, textangle=-90,
                        xanchor="center", yanchor="middle",
                        font=dict(family=FONT, size=27, color="black")))

fig.update_layout(
    width=FW, height=FH,
    margin=dict(l=0, r=0, t=0, b=0),
    paper_bgcolor="white", plot_bgcolor="white",
    shapes=shapes, annotations=annotations,
    legend=dict(x=fx(2600), y=fy(990), xanchor="left", yanchor="middle",
                itemwidth=119,
                font=dict(family=FONT, size=22, color="black"),
                tracegroupgap=67, bgcolor="rgba(0,0,0,0)"),
    **layout,
)

fig.write_html("out.html")
